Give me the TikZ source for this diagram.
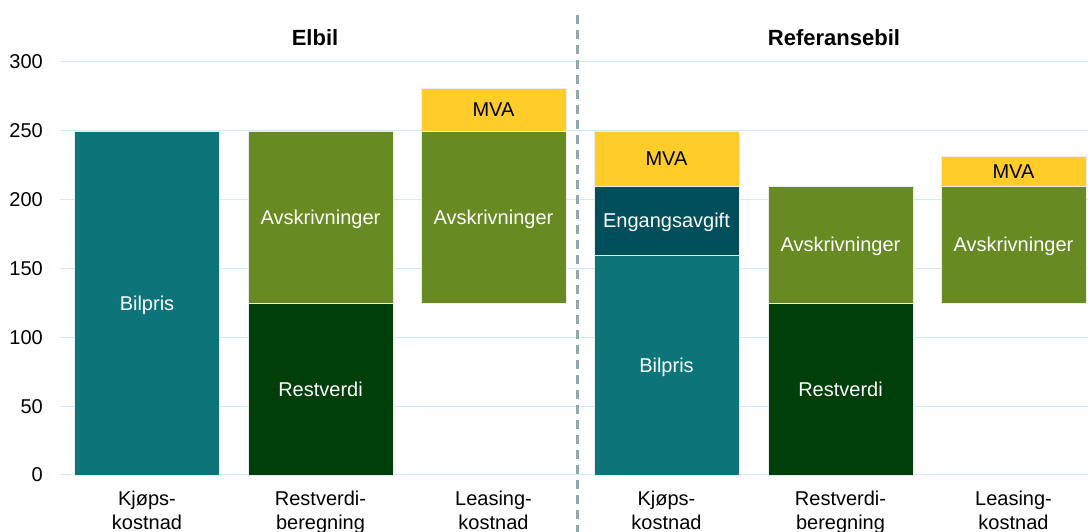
\documentclass[tikz,border=0pt]{standalone}
\usepackage{fontspec}
\setmainfont{Liberation Sans}
\definecolor{teal1}{HTML}{0D7579}
\definecolor{darkteal}{HTML}{004F5A}
\definecolor{darkgreen}{HTML}{003F0A}
\definecolor{olive1}{HTML}{688A22}
\definecolor{yellow1}{HTML}{FFCC29}
\definecolor{gridc}{HTML}{CDEDF3}
\definecolor{sepc}{HTML}{8FA9AE}

% one stacked segment: centre x, from, to, style, text, name
\newcommand{\segment}[6]{%
  \node [seg, #4, minimum height={(#3-#2)*1.3767pt}] (#6)
    at (#1, {57+1.3767*(#2+#3)/2}) {#5};%
}

\begin{document}
\begin{tikzpicture}[
    x=1pt, y=1pt
    ,every node/.append style={font=\fontsize{20}{23}\selectfont}
    ,seg/.style={draw=white!85!gray, line width=.4pt, inner sep=0pt, minimum width=145pt,
      text=white, text height=14.3pt, text depth=0pt}
    ,bil/.style={fill=teal1}
    ,eng/.style={fill=darkteal}
    ,rest/.style={fill=darkgreen}
    ,avs/.style={fill=olive1}
    ,mva/.style={fill=yellow1, text=black}
    ,grid/.style={draw=gridc, line width=1pt}
    ,tick/.style={anchor=east, inner sep=0pt}
    ,cat/.style={anchor=north, align=center, inner sep=0pt, font=\fontsize{20}{24}\selectfont}
    ,title/.style={font=\fontsize{22}{26}\selectfont\bfseries}
  ]
  \useasboundingbox (0,0) rectangle (1088,532);

  % axis and grid
  \foreach \v in {0,50,...,300} {
    \draw [grid] (60,{57+1.3767*\v}) -- (1088,{57+1.3767*\v});
    \node [tick] (t\v) at (43,{57+1.3767*\v}) {\v};
  }

  % Elbil
  \segment{147}{0}{250}{bil}{Bilpris}{eK}
  \segment{320.5}{0}{125}{rest}{Restverdi}{eRr}
  \segment{320.5}{125}{250}{avs}{Avskrivninger}{eRa}
  \segment{493.5}{125}{250}{avs}{Avskrivninger}{eLa}
  \segment{493.5}{250}{281.25}{mva}{MVA}{eLm}

  % Referansebil
  \segment{666.5}{0}{160}{bil}{Bilpris}{rK}
  \segment{666.5}{160}{210}{eng}{Engangsavgift}{rKe}
  \segment{666.5}{210}{250}{mva}{MVA}{rKm}
  \segment{840.5}{0}{125}{rest}{Restverdi}{rRr}
  \segment{840.5}{125}{210}{avs}{Avskrivninger}{rRa}
  \segment{1013.5}{125}{210}{avs}{Avskrivninger}{rLa}
  \segment{1013.5}{210}{231.25}{mva}{MVA}{rLm}

  % category labels
  \foreach \x/\n/\t in {147/c1/{Kjøps-\\kostnad}, 320.5/c2/{Restverdi-\\beregning},
      493.5/c3/{Leasing-\\kostnad}, 666.5/c4/{Kjøps-\\kostnad},
      840.5/c5/{Restverdi-\\beregning}, 1013.5/c6/{Leasing-\\kostnad}}
    \node [cat] (\n) at (\x,41) {\t};

  % titles
  \node [title] (elbil) at (315,494) {Elbil};
  \node [title] (ref) at (834,494) {Referansebil};

  % separator
  \coordinate (sepTop) at (577.7,517);
  \coordinate (sepBot) at (577.7,0);
  \draw [sepc, line width=3pt, dash pattern=on 9pt off 6pt] (sepTop) -- (sepBot);
\end{tikzpicture}
\end{document}
